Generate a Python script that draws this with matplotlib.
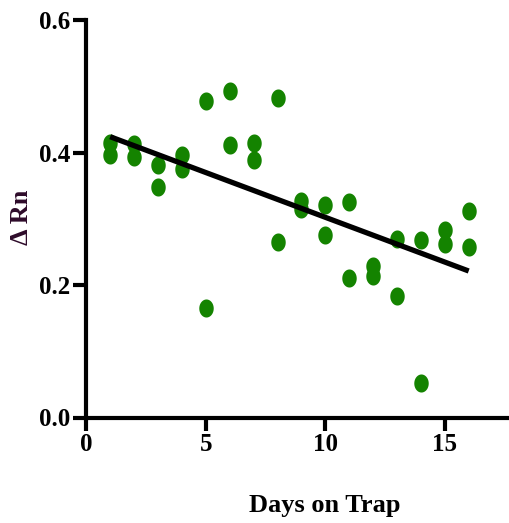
import numpy as np
import matplotlib
matplotlib.use("Agg")
import matplotlib.pyplot as plt
from matplotlib.path import Path

# ---- data ----
days = [1, 1, 2, 2, 3, 3, 4, 4, 5, 5, 6, 6, 7, 7, 8, 8,
        9, 9, 10, 10, 11, 11, 12, 12, 13, 13, 14, 14, 15, 15, 16, 16]
delta_rn = [0.415, 0.396, 0.413, 0.393, 0.381, 0.348, 0.396, 0.375,
            0.478, 0.166, 0.493, 0.412, 0.415, 0.389, 0.482, 0.265,
            0.327, 0.314, 0.321, 0.276, 0.326, 0.210, 0.228, 0.214,
            0.269, 0.183, 0.268, 0.052, 0.283, 0.262, 0.311, 0.258]
x_ticks = [0, 5, 10, 15]
y_ticks = [0.0, 0.2, 0.4, 0.6]
y_tick_labels = ["0.0", "0.2", "0.4", "0.6"]

GREEN = "#148300"
FONT = "Liberation Serif"

W, H = 509, 523
fig = plt.figure(figsize=(W / 100, H / 100), dpi=100)
x0_px, y0_px = 86.3, 417.5
unit_x = 23.9
ax = fig.add_axes([x0_px / W, (H - y0_px) / H, (W - x0_px) / W, 397.5 / H])

# ellipse marker (slightly taller than wide)
t = np.linspace(0, 2 * np.pi, 60)
ell = Path(np.column_stack([0.8 * np.cos(t), np.sin(t)]), closed=True)

x = np.array(days, dtype=float)
y = np.array(delta_rn)
ax.plot(x, y, linestyle="none", marker=ell, markersize=13,
        color=GREEN, markeredgewidth=0, zorder=3)

slope, intercept = np.polyfit(x, y, 1)
xl = np.array([x.min(), x.max()])
ax.plot(xl, slope * xl + intercept, color="black", lw=3.8,
        solid_capstyle="butt", zorder=4)

ax.set_xlim(0, (W - x0_px) / unit_x)
ax.set_ylim(0, 0.6)
ax.set_xticks(x_ticks)
ax.set_yticks(y_ticks)
ax.set_yticklabels(y_tick_labels)

for s in ["top", "right"]:
    ax.spines[s].set_visible(False)
for s in ["left", "bottom"]:
    ax.spines[s].set_linewidth(3.0)
    ax.spines[s].set_capstyle("projecting")

ax.tick_params(axis="both", width=3.0, length=9.5, pad=2, direction="out",
               labelsize=18)
for lab in ax.get_xticklabels() + ax.get_yticklabels():
    lab.set_fontfamily(FONT)
    lab.set_fontweight("bold")

fig.text(325 / W, (H - 512) / H, "Days on Trap", ha="center", va="baseline",
         fontsize=19, fontweight="bold", fontfamily=FONT)
fig.text(22 / W, (H - 217) / H, "Δ Rn", ha="center", va="center",
         rotation=90, fontsize=19, fontweight="bold", fontfamily=FONT,
         color="#2e0b2a")

fig.savefig("out.png", dpi=100)
